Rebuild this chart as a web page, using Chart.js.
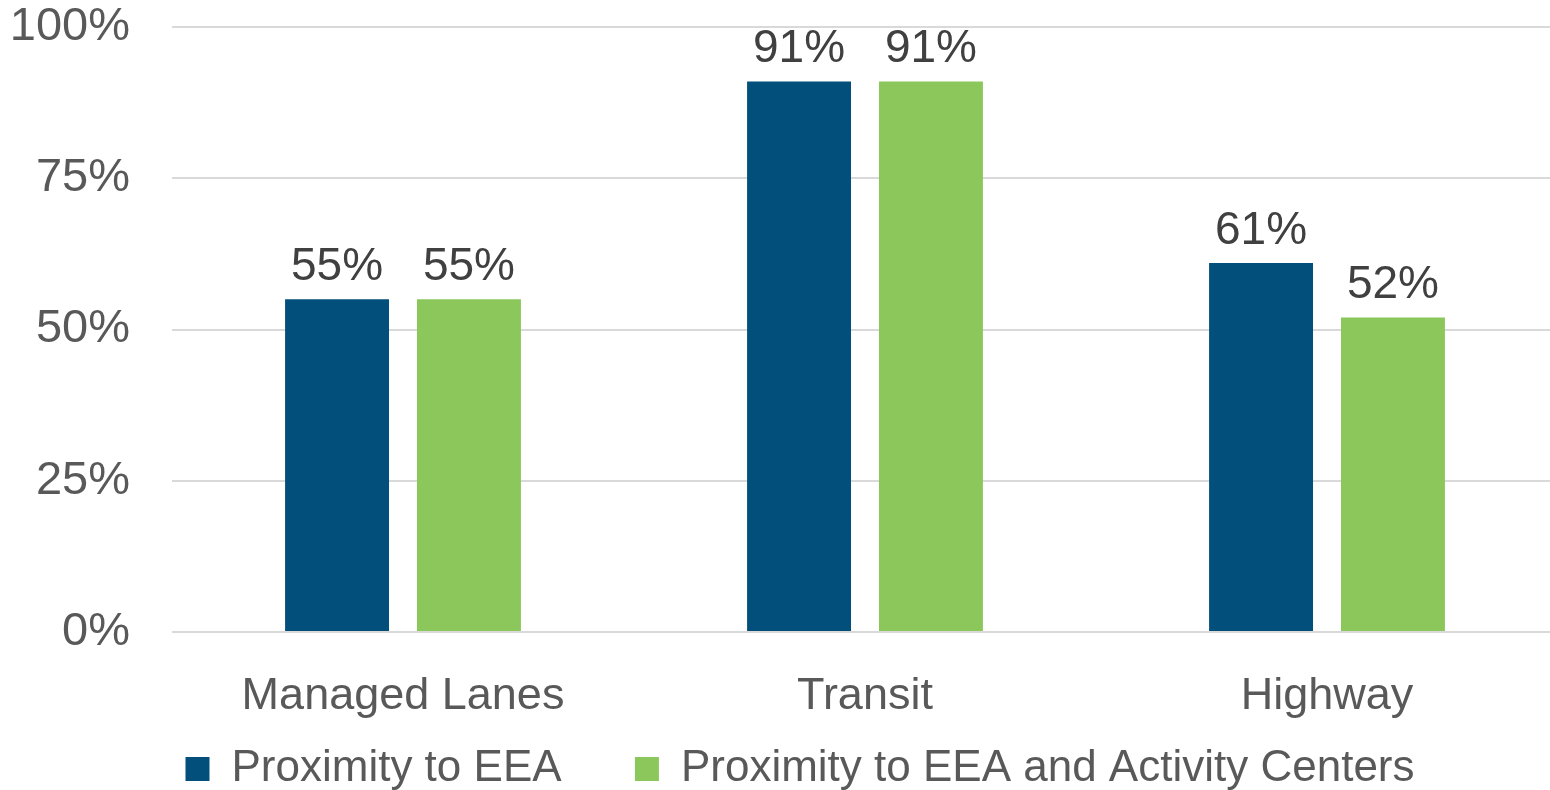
<!DOCTYPE html>
<html>
<head>
<meta charset="utf-8">
<script src="https://cdn.jsdelivr.net/npm/chart.js@4"></script>
<style>
    html, body { margin: 0; padding: 0; background: #fff; overflow: hidden; }
    .chart-container { width: 1558px; height: 790px; position: relative; }
</style>
</head>
<body>
<div class="chart-container"><canvas id="proximityChart"></canvas></div>
<script>
const categories = ['Managed Lanes', 'Transit', 'Highway'];
const eeaValues = [55, 91, 61];
const eeaActivityValues = [55, 91, 52];
const yTicks = [0, 25, 50, 75, 100];

const fontFamily = '"Liberation Sans", Arial, sans-serif';

// value labels above each bar
const barLabels = {
    id: 'barLabels',
    afterDatasetsDraw(chart) {
        const ctx = chart.ctx;
        ctx.save();
        ctx.font = '46px ' + fontFamily;
        ctx.fillStyle = '#404040';
        ctx.textAlign = 'center';
        ctx.textBaseline = 'alphabetic';
        chart.data.datasets.forEach((ds, i) => {
            chart.getDatasetMeta(i).data.forEach((bar, j) => {
                ctx.fillText(ds.data[j] + '%', bar.x, bar.y - 19);
            });
        });
        ctx.restore();
    }
};

// nudge the legend a bit right and down
const legendShift = {
    id: 'legendShift',
    afterLayout(chart) {
        const lg = chart.legend;
        lg.left += 42;
        lg.top += 11;
        lg.bottom += 11;
    }
};

new Chart(document.getElementById('proximityChart'), {
    type: 'bar',
    data: {
        labels: categories,
        datasets: [
            {
                label: 'Proximity to EEA',
                data: eeaValues,
                backgroundColor: '#034f7b',
                categoryPercentage: 0.571,
                barPercentage: 0.788,
            },
            {
                label: 'Proximity to EEA and Activity Centers',
                data: eeaActivityValues,
                backgroundColor: '#8bc75a',
                categoryPercentage: 0.571,
                barPercentage: 0.788,
            },
        ],
    },
    options: {
        responsive: true,
        maintainAspectRatio: false,
        animation: false,
        layout: { padding: 0 },
        plugins: {
            tooltip: { enabled: false },
            legend: {
                position: 'bottom',
                labels: {
                    color: '#595959',
                    font: { family: fontFamily, size: 44 },
                    boxWidth: 24,
                    boxHeight: 24,
                    padding: 0,
                    generateLabels: chart => {
                        const items = Chart.defaults.plugins.legend.labels.generateLabels(chart);
                        // wider gap after the first entry
                        items[0].text = items[0].text + '      ';
                        return items;
                    },
                },
            },
        },
        scales: {
            x: {
                grid: { display: false },
                border: { display: false },
                afterFit: axis => { axis.height = 104; },
                ticks: {
                    color: '#595959',
                    font: { family: fontFamily, size: 45 },
                    padding: 30,
                },
            },
            y: {
                min: 0,
                max: 100,
                border: { display: false },
                grid: { color: '#d9d9d9', lineWidth: 2, drawTicks: false },
                afterBuildTicks: axis => { axis.ticks = yTicks.map(v => ({ value: v })); },
                afterFit: axis => {
                    axis.width = 172;
                    axis.paddingTop = 27;
                    axis.paddingBottom = 0;
                },
                ticks: {
                    color: '#595959',
                    font: { family: fontFamily, size: 47 },
                    padding: 42,
                    callback: v => v + '%',
                },
            },
        },
    },
    plugins: [barLabels, legendShift],
});
</script>
</body>
</html>
